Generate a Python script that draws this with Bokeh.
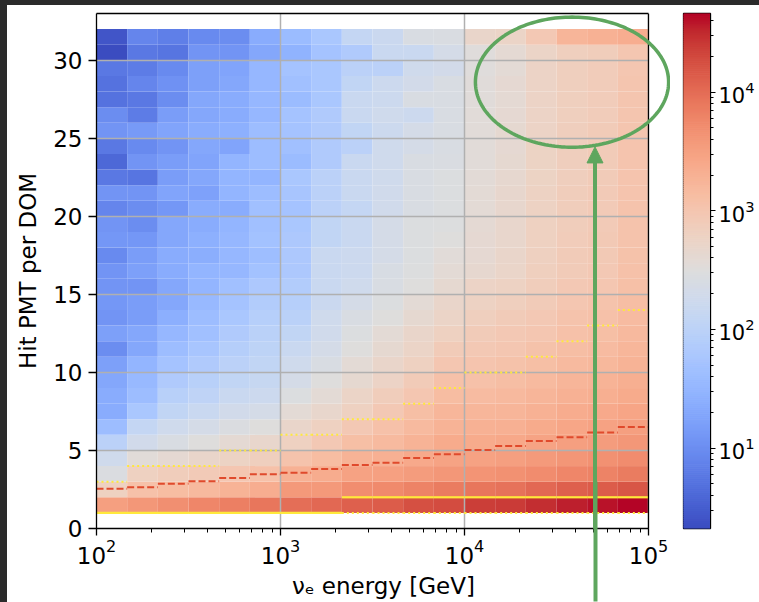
import numpy as np
from bokeh.plotting import figure
from bokeh.models import (LogColorMapper, Arrow, NormalHead, PolyAnnotation, Spacer, Span,
                          BoxAnnotation, SingleIntervalTicker, FixedTicker, LinearAxis,
                          CustomJSTickFormatter, ColumnDataSource)
from bokeh.layouts import row, column
from bokeh.embed import file_html
from bokeh.resources import INLINE

# ---------------- data ----------------
energy_edges = 10 ** np.linspace(2, 5, 19)
hit_edges = np.arange(1, 33)

counts_by_bin = [
    [3300, 650, 280, 180, 100, 40, 23, 23, 20, 16, 10, 16, 12, 13, 12, 12, 9, 13, 12, 8, 12, 6, 4, 6, 12, 10, 5, 5, 6, 2.1, 2.6],
    [4000, 1200, 650, 350, 200, 130, 60, 40, 35, 30, 20, 20, 15, 15, 12, 16, 15, 13, 10, 10, 12, 5.5, 12, 9, 14, 6.5, 6, 8, 6.5, 6, 8],
    [4800, 1400, 750, 420, 260, 180, 120, 90, 70, 50, 40, 33, 25, 20, 20, 23, 23, 20, 20, 13, 18, 15, 15, 12, 18, 15, 10, 11, 9, 5.5, 7],
    [6000, 1600, 850, 500, 320, 220, 150, 110, 90, 70, 55, 45, 40, 35, 30, 30, 24, 26, 23, 23, 17, 20, 18, 20, 23, 20, 20, 16, 16, 12, 9],
    [7000, 1900, 1000, 600, 400, 280, 200, 150, 120, 100, 80, 70, 60, 50, 45, 33, 33, 33, 30, 23, 30, 30, 30, 18, 26, 23, 23, 20, 18, 12, 10],
    [8500, 2200, 1200, 700, 480, 320, 220, 170, 140, 120, 105, 95, 85, 75, 65, 48, 42, 48, 45, 45, 40, 30, 40, 40, 40, 33, 33, 33, 33, 20, 23],
    [10000, 3800, 2000, 1100, 650, 500, 380, 290, 220, 180, 150, 120, 95, 85, 75, 65, 65, 65, 58, 50, 55, 58, 38, 45, 50, 50, 38, 45, 50, 28, 38],
    [11000, 3800, 2300, 1400, 900, 650, 480, 380, 320, 260, 220, 190, 180, 160, 150, 150, 150, 120, 120, 100, 100, 100, 70, 70, 70, 70, 60, 60, 60, 50, 60],
    [13000, 5000, 3000, 1900, 1300, 900, 650, 540, 440, 380, 320, 290, 260, 220, 180, 170, 170, 150, 150, 130, 150, 150, 150, 100, 120, 150, 150, 120, 100, 70, 130],
    [14000, 5500, 3200, 2100, 1500, 1200, 900, 750, 580, 500, 440, 380, 320, 290, 260, 250, 220, 220, 220, 190, 190, 180, 180, 180, 170, 180, 170, 170, 100, 150, 160],
    [18000, 6500, 3600, 2500, 1900, 1500, 1300, 1000, 800, 650, 540, 500, 440, 380, 320, 300, 290, 290, 290, 260, 260, 260, 260, 220, 220, 170, 260, 210, 180, 150, 260],
    [19000, 7500, 4000, 2900, 2400, 1900, 1700, 1400, 1200, 1000, 800, 650, 540, 500, 440, 380, 360, 320, 300, 290, 290, 290, 270, 260, 260, 260, 260, 260, 210, 220, 270],
    [24000, 8500, 4300, 3100, 2400, 2000, 1700, 1450, 1200, 1050, 900, 800, 700, 620, 560, 450, 420, 410, 400, 390, 380, 370, 360, 360, 350, 350, 340, 340, 330, 330, 500],
    [25000, 9000, 4600, 3300, 2600, 2100, 1800, 1600, 1350, 1150, 1000, 900, 800, 700, 620, 520, 500, 490, 480, 470, 460, 450, 440, 420, 430, 420, 400, 410, 390, 400, 550],
    [30000, 11000, 5200, 3700, 2900, 2400, 2000, 1750, 1500, 1300, 1150, 1000, 900, 820, 750, 680, 660, 640, 630, 620, 610, 600, 600, 590, 580, 580, 570, 560, 560, 550, 900],
    [36000, 13000, 6000, 4200, 3300, 2700, 2300, 2000, 1750, 1500, 1350, 1200, 1100, 1000, 900, 820, 800, 780, 760, 750, 740, 730, 720, 720, 710, 700, 700, 680, 690, 680, 1800],
    [40000, 14000, 6500, 4600, 3600, 3000, 2500, 2150, 1900, 1650, 1450, 1300, 1200, 1100, 1000, 920, 890, 870, 850, 840, 830, 820, 810, 800, 800, 790, 780, 780, 770, 760, 2000],
    [46000, 16000, 7500, 5200, 4000, 3300, 2800, 2450, 2150, 1900, 1700, 1550, 1450, 1350, 1250, 1180, 1150, 1120, 1100, 1090, 1080, 1070, 1060, 1050, 1040, 1030, 1020, 1010, 1000, 1000, 2200],
]

median_hits = [2.55, 2.65, 2.86, 3.02, 3.23, 3.47, 3.58, 3.81, 4.07, 4.22, 4.51, 4.75, 5.03, 5.28, 5.60, 5.85, 6.15, 6.50]
upper_hits = [3, 4, 4, 4, 5, 5, 6, 6, 7, 7, 8, 9, 10, 10, 11, 12, 13, 14]
lower_hits = [1, 1, 1, 1, 1, 1, 1, 1, 1, 1, 1, 1, 1, 1, 1, 1, 1, 1]
mode_hits = [1, 1, 1, 1, 1, 1, 1, 1, 2, 2, 2, 2, 2, 2, 2, 2, 2, 2]

ellipse_center = (3.84e4, 28.6)
ellipse_half_axes = (0.525, 4.17)
arrow_x = 5.12e4
arrow_y = (-8.0, 24.45)

E_MIN, E_MAX = 1e2, 1e5
HITS_MAX = 33
# the drawing area reaches 22 px to the right of the axes box so the ellipse is not cut
X_VIEW_END = 10 ** (5 + 3 * 22 / 552)

# ---------------- colour map (coolwarm) ----------------
cw_table = [
    (59, 76, 192), (68, 90, 204), (77, 104, 215), (87, 117, 225), (98, 130, 234),
    (108, 142, 241), (119, 154, 247), (130, 165, 251), (141, 176, 254), (152, 185, 255),
    (163, 194, 255), (174, 201, 253), (184, 208, 249), (194, 213, 244), (204, 217, 238),
    (213, 219, 230), (221, 221, 221), (229, 216, 209), (236, 211, 197), (241, 204, 185),
    (245, 196, 173), (247, 187, 160), (247, 177, 148), (247, 166, 135), (244, 154, 123),
    (241, 141, 111), (236, 127, 99), (229, 112, 88), (222, 96, 77), (213, 80, 66),
    (203, 62, 56), (192, 40, 47), (180, 4, 38)]
tbl = np.array(cw_table, dtype=float)
tpos = np.linspace(0, 1, len(tbl))
ts = np.linspace(0, 1, 256)
coolwarm = ["#%02x%02x%02x" % tuple(int(round(np.interp(t, tpos, tbl[:, k]))) for k in range(3)) for t in ts]

all_vals = [v for col in counts_by_bin for v in col]
vmin, vmax = min(all_vals), max(all_vals)
mapper = LogColorMapper(palette=coolwarm, low=vmin, high=vmax)

left, right, bottom, top, val = [], [], [], [], []
for i, col in enumerate(counts_by_bin):
    for j, v in enumerate(col):
        left.append(energy_edges[i]); right.append(energy_edges[i + 1])
        bottom.append(hit_edges[j]); top.append(hit_edges[j + 1]); val.append(v)
src = ColumnDataSource(dict(left=left, right=right, bottom=bottom, top=top, val=val))

FONT = "DejaVu Sans"

p = figure(width=663, height=597, x_axis_type="log", x_range=(E_MIN, X_VIEW_END), y_range=(0, HITS_MAX),
           output_backend="svg", toolbar_location=None,
           min_border_left=89, min_border_top=8, min_border_right=0, min_border_bottom=74)
p.background_fill_color = "white"
p.border_fill_color = "white"
p.outline_line_color = None

p.quad(left="left", right="right", bottom="bottom", top="top", source=src,
       fill_color={"field": "val", "transform": mapper}, line_color=None, level="image")

x0 = energy_edges[:-1]
x1 = energy_edges[1:]
p.segment(x0=x0, x1=x1, y0=lower_hits, y1=lower_hits, line_color="#ffe93b", line_width=2, line_dash="2 3")
p.segment(x0=x0, x1=x1, y0=mode_hits, y1=mode_hits, line_color="#ffe93b", line_width=2.2)
p.segment(x0=x0, x1=x1, y0=upper_hits, y1=upper_hits, line_color="#ffe93b", line_width=2, line_dash="2 3")
p.segment(x0=x0, x1=x1, y0=median_hits, y1=median_hits, line_color="#e04a2c", line_width=2, line_dash="7 3")

# axes
yt = SingleIntervalTicker(interval=5, num_minor_ticks=0)
p.yaxis.ticker = yt
p.ygrid.ticker = yt
p.ygrid.bounds = (0, HITS_MAX)
p.xgrid.bounds = (E_MIN, E_MAX)
for g in (p.xgrid, p.ygrid):
    g.grid_line_color = "#b0b0b0"
    g.grid_line_width = 1.5

p.xaxis.bounds = (E_MIN, E_MAX)
for ax in (p.xaxis[0], p.yaxis[0]):
    ax.axis_line_color = "black"
    ax.axis_line_width = 1.3
    ax.major_tick_line_color = "black"
    ax.major_tick_line_width = 1.3
    ax.minor_tick_line_color = "black"
    ax.minor_tick_line_width = 1
    ax.major_tick_in = 0
    ax.minor_tick_in = 0
    ax.major_label_text_font = FONT
    ax.major_label_text_font_size = "23px"
    ax.major_label_text_color = "black"
    ax.axis_label_text_font = FONT
    ax.axis_label_text_font_size = "23px"
    ax.axis_label_text_font_style = "normal"
    ax.axis_label_text_color = "black"

p.xaxis.major_tick_out = 7
p.xaxis.minor_tick_out = 4
p.yaxis.major_tick_out = 8
p.yaxis.minor_tick_out = 0
p.xaxis.axis_label = "νₑ energy [GeV]"
p.yaxis.axis_label = "Hit PMT per DOM"
p.xaxis.major_label_standoff = 3
p.yaxis.major_label_standoff = 6
p.xaxis.axis_label_standoff = 6
p.yaxis.axis_label_standoff = 9

# white cover right of the axes box (hides the horizontal grid there), then the box's top and right sides
p.add_layout(BoxAnnotation(left=E_MAX, fill_color="white", fill_alpha=1, line_color=None, level="underlay"))
p.add_layout(Span(location=E_MAX, dimension="height", line_color="black", line_width=1.3, level="overlay"))
top_spine = LinearAxis(bounds=(E_MIN, E_MAX), ticker=FixedTicker(ticks=[]),
                       axis_line_color="black", axis_line_width=1.3,
                       major_tick_line_color=None, minor_tick_line_color=None, major_label_standoff=0)
p.add_layout(top_spine, "above")

# green annotations
green = "#5ea65e"
t = np.linspace(0, 2 * np.pi, 181)
ell_x = 10 ** (np.log10(ellipse_center[0]) + ellipse_half_axes[0] * np.cos(t))
ell_y = ellipse_center[1] + ellipse_half_axes[1] * np.sin(t)
p.add_layout(PolyAnnotation(xs=list(ell_x), ys=list(ell_y), fill_alpha=0,
                            line_color=green, line_width=3.5, line_alpha=1, level="overlay"))
p.add_layout(Arrow(end=NormalHead(size=16, fill_color=green, line_color=green, line_width=1),
                   x_start=arrow_x, y_start=arrow_y[0], x_end=arrow_x, y_end=arrow_y[1],
                   line_color=green, line_width=4, level="overlay"))
# continuation of the arrow shaft below the axes (a single long tick, which is not clipped)
shaft = LinearAxis(ticker=FixedTicker(ticks=[arrow_x]), axis_line_color=None,
                   major_tick_line_color=green, major_tick_line_width=4,
                   major_tick_in=120, major_tick_out=0, minor_tick_line_color=None,
                   major_label_standoff=0, major_label_text_font_size="1px",
                   formatter=CustomJSTickFormatter(code="return ''"))
p.add_layout(shaft, "below")

# ---------------- colour bar ----------------
cb = figure(width=89, height=597, y_axis_type="log", y_range=(vmin, vmax), x_range=(0, 1),
            y_axis_location="right", x_axis_location=None,
            output_backend="svg", toolbar_location=None,
            min_border_left=13, min_border_right=49, min_border_top=8, min_border_bottom=74)
lv = np.linspace(np.log10(vmin), np.log10(vmax), len(coolwarm) + 1)
cb.quad(left=0, right=1, bottom=10 ** lv[:-1], top=10 ** lv[1:], fill_color=coolwarm, line_color=coolwarm)
cb.grid.visible = False
cb.outline_line_color = "black"
cb.outline_line_width = 1.3
ca = cb.yaxis[0]
ca.axis_line_color = "black"
ca.major_tick_in = 0
ca.major_tick_out = 5
ca.minor_tick_in = 0
ca.minor_tick_out = 3
ca.major_tick_line_color = "black"
ca.minor_tick_line_color = "black"
ca.major_label_text_font = FONT
ca.major_label_text_font_size = "21px"
ca.major_label_text_color = "black"
ca.major_label_standoff = 3

top_bar = Spacer(width=759, height=5, styles={"background-color": "#2b2b2b"})
left_bar = Spacer(width=7, height=597, styles={"background-color": "#2b2b2b"})
layout = column(top_bar, row(left_bar, p, cb, spacing=0), spacing=0)

open("out.html", "w").write(file_html(layout, INLINE))
